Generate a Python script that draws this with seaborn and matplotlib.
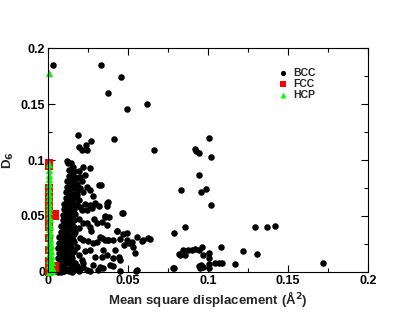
import matplotlib
matplotlib.use("Agg")
import matplotlib.pyplot as plt
from matplotlib.ticker import MultipleLocator
import seaborn as sns
import numpy as np
import pandas as pd

# (mean square displacement, D6) pairs
bcc = np.array([
    # isolated points, upper part
    (0.0031, 0.185), (0.033, 0.185), (0.0454, 0.174), (0.0377, 0.160),
    (0.0496, 0.146), (0.062, 0.150), (0.0185, 0.122), (0.0267, 0.117),
    (0.041, 0.119), (0.0235, 0.113), (0.019, 0.112), (0.066, 0.109),
    (0.1008, 0.120), (0.092, 0.110), (0.0925, 0.108), (0.094, 0.1066),
    (0.1017, 0.1024), (0.0946, 0.0866), (0.0831, 0.073), (0.0954, 0.0711),
    (0.0988, 0.0744), (0.1017, 0.0598), (0.0788, 0.0351), (0.0856, 0.0402),
    (0.1296, 0.0402), (0.1367, 0.0402), (0.142, 0.0408), (0.108, 0.022),
    (0.1217, 0.0185), (0.1308, 0.0158), (0.1169, 0.0071), (0.172, 0.008),
    (0.078, 0.0036),
    # cluster around x = 0.1
    (0.0825, 0.0152), (0.084, 0.0196), (0.0856, 0.0152), (0.0877, 0.0196),
    (0.0898, 0.0196), (0.0919, 0.0205), (0.0946, 0.0196), (0.0963, 0.022),
    (0.0967, 0.0152), (0.1008, 0.0167), (0.1008, 0.0122), (0.1044, 0.0083),
    (0.1065, 0.0083), (0.1085, 0.0077), (0.094, 0.0054), (0.0954, 0.0062),
    (0.0967, 0.0047), (0.095, 0.0033), (0.1008, 0.0036), (0.1008, 0.0071),
    # middle region
    (0.033, 0.0777), (0.037, 0.062), (0.0367, 0.059), (0.0465, 0.0524),
    (0.0356, 0.050), (0.0383, 0.0494), (0.0367, 0.042), (0.0429, 0.0366),
    (0.0467, 0.0339), (0.0335, 0.030), (0.0356, 0.0286), (0.0377, 0.0286),
    (0.0492, 0.0286), (0.0523, 0.0271), (0.0554, 0.0315), (0.0585, 0.028),
    (0.0638, 0.0292), (0.0533, 0.0226), (0.0544, 0.0173), (0.0419, 0.0196),
    (0.044, 0.0137), (0.0408, 0.0122), (0.0335, 0.0137), (0.082, 0.0158),
    (0.0788, 0.0033), (0.0408, 0.0054), (0.045, 0.0012), (0.055, 0.0012),
    (0.0346, 0.0033), (0.0596, 0.0286), (0.0627, 0.030), (0.0325, 0.0315),
    (0.0377, 0.0286), (0.0283, 0.0256), (0.022, 0.0286), (0.0158, 0.0286),
    (0.0429, 0.0369), (0.0492, 0.0345), (0.045, 0.0107), (0.0388, 0.0062),
    (0.0325, 0.0047), (0.0294, 0.0137), (0.0367, 0.0152), (0.026, 0.0196),
    (0.0554, 0.0018), (0.022, 0.0077), (0.0138, 0.0077), (0.0158, 0.0182),
    (0.046, 0.053), (0.0356, 0.0494), (0.024, 0.0435), (0.0304, 0.0435),
    (0.0335, 0.045), (0.0158, 0.038), (0.0377, 0.0629), (0.0273, 0.0568),
    (0.021, 0.055), (0.0315, 0.0777), (0.0179, 0.0762), (0.026, 0.0732),
    (0.0148, 0.088), (0.020, 0.085), (0.023, 0.0866), (0.0127, 0.097),
    (0.0158, 0.094), (0.022, 0.094), (0.026, 0.0926), (0.021, 0.109),
    (0.024, 0.109), (0.0405, 0.0286), (0.045, 0.029), (0.0305, 0.027),
    (0.034, 0.020), (0.0475, 0.024), (0.0505, 0.026), (0.0265, 0.0365),
    (0.0285, 0.0470), (0.0315, 0.0585), (0.0295, 0.0610),
    # dense band near the y axis
    (0.005, 0.001), (0.007, 0.002), (0.009, 0.001), (0.011, 0.003),
    (0.006, 0.004), (0.008, 0.005), (0.010, 0.006), (0.012, 0.002),
    (0.014, 0.004), (0.016, 0.002), (0.018, 0.005), (0.007, 0.008),
    (0.009, 0.009), (0.011, 0.008), (0.013, 0.010), (0.020, 0.003),
    (0.024, 0.002), (0.017, 0.008), (0.028, 0.006), (0.031, 0.002),
    (0.006, 0.012), (0.008, 0.014), (0.010, 0.013), (0.007, 0.017),
    (0.009, 0.019), (0.011, 0.016), (0.006, 0.021), (0.008, 0.023),
    (0.010, 0.022), (0.012, 0.020), (0.007, 0.026), (0.009, 0.028),
    (0.011, 0.025), (0.013, 0.027), (0.015, 0.012), (0.019, 0.015),
    (0.021, 0.011), (0.018, 0.022), (0.023, 0.019), (0.025, 0.028),
    (0.007, 0.031), (0.009, 0.033), (0.011, 0.032), (0.008, 0.036),
    (0.010, 0.038), (0.012, 0.035), (0.008, 0.041), (0.010, 0.043),
    (0.012, 0.040), (0.009, 0.046), (0.011, 0.048), (0.013, 0.045),
    (0.014, 0.033), (0.017, 0.036), (0.015, 0.042), (0.019, 0.047),
    (0.022, 0.044), (0.026, 0.040), (0.020, 0.030), (0.019, 0.039),
    (0.009, 0.051), (0.011, 0.053), (0.013, 0.050), (0.010, 0.056),
    (0.012, 0.058), (0.014, 0.055), (0.010, 0.061), (0.012, 0.063),
    (0.014, 0.060), (0.011, 0.066), (0.013, 0.068), (0.015, 0.065),
    (0.017, 0.052), (0.020, 0.058), (0.023, 0.061), (0.026, 0.060),
    (0.029, 0.062), (0.016, 0.068), (0.019, 0.064), (0.024, 0.055),
    (0.011, 0.071), (0.013, 0.073), (0.015, 0.070), (0.012, 0.076),
    (0.014, 0.078), (0.016, 0.075), (0.012, 0.081), (0.014, 0.083),
    (0.016, 0.080), (0.013, 0.086), (0.015, 0.088), (0.017, 0.085),
    (0.013, 0.091), (0.015, 0.093), (0.014, 0.097), (0.012, 0.099),
    (0.018, 0.079), (0.021, 0.081), (0.019, 0.090), (0.022, 0.071),
    (0.024, 0.076), (0.028, 0.068),
    # extra points filling the dense band
    (0.006, 0.000), (0.008, 0.000), (0.010, 0.001), (0.013, 0.001),
    (0.015, 0.000), (0.019, 0.001), (0.022, 0.004), (0.026, 0.001),
    (0.008, 0.011), (0.010, 0.010), (0.012, 0.013), (0.014, 0.016),
    (0.016, 0.019), (0.012, 0.024), (0.014, 0.022), (0.016, 0.027),
    (0.010, 0.030), (0.012, 0.029), (0.015, 0.030), (0.016, 0.034),
    (0.014, 0.038), (0.016, 0.040), (0.013, 0.043), (0.016, 0.046),
    (0.011, 0.044), (0.015, 0.048), (0.012, 0.051), (0.015, 0.052),
    (0.016, 0.056), (0.012, 0.055), (0.016, 0.061), (0.018, 0.060),
    (0.013, 0.064), (0.017, 0.066), (0.014, 0.070), (0.018, 0.072),
    (0.017, 0.077), (0.015, 0.082), (0.018, 0.084), (0.016, 0.090),
    (0.020, 0.075), (0.018, 0.069),
])

fcc = np.array([
    (0.0005, 0.097), (0.0008, 0.095), (0.0005, 0.075), (0.0008, 0.072),
    (0.0005, 0.065), (0.0008, 0.061), (0.0005, 0.056), (0.0008, 0.052),
    (0.0005, 0.048), (0.0008, 0.045), (0.0042, 0.052), (0.0045, 0.050),
    (0.0005, 0.040), (0.0005, 0.030), (0.0005, 0.020), (0.0008, 0.010),
    (0.0005, 0.003), (0.0005, 0.000), (0.0045, 0.005), (0.0040, 0.003),
    (0.0020, 0.001),
])

hcp = np.array([
    (0.0003, 0.178), (0.0003, 0.096), (0.0003, 0.091), (0.0003, 0.087),
    (0.0005, 0.083), (0.0003, 0.079), (0.0003, 0.074), (0.0005, 0.070),
    (0.0003, 0.066), (0.0005, 0.062), (0.0003, 0.058), (0.0005, 0.054),
    (0.0003, 0.050), (0.0010, 0.047), (0.0003, 0.044), (0.0010, 0.041),
    (0.0003, 0.038), (0.0012, 0.035), (0.0003, 0.032), (0.0012, 0.029),
    (0.0003, 0.026), (0.0015, 0.024), (0.0005, 0.021), (0.0018, 0.019),
    (0.0005, 0.016), (0.0020, 0.014), (0.0005, 0.011), (0.0022, 0.009),
    (0.0005, 0.006), (0.0025, 0.004), (0.0010, 0.002), (0.0003, 0.000),
    (0.0015, 0.001), (0.0028, 0.002),
])

phases = ["BCC", "FCC", "HCP"]
colors = ["black", "red", "#00ff00"]
markers = ["o", "s", "^"]
sizes = [22, 28, 28]
tick_vals = [0, 0.05, 0.1, 0.15, 0.2]
tick_labels = ["0", "0.05", "0.1", "0.15", "0.2"]

df = pd.concat([
    pd.DataFrame({"msd": arr[:, 0], "d6": arr[:, 1], "phase": name})
    for arr, name in zip([bcc, fcc, hcp], phases)
])

sns.set_style("ticks")
plt.rcParams["font.family"] = ["Liberation Sans", "DejaVu Sans"]
plt.rcParams["font.weight"] = "bold"

fig = plt.figure(figsize=(4.15, 3.21), dpi=100)
ax = fig.add_axes([0.116, 0.153, 0.771, 0.697])

for name, c, m, s in zip(phases, colors, markers, sizes):
    sns.scatterplot(data=df[df.phase == name], x="msd", y="d6", color=c,
                    marker=m, s=s, linewidth=0, label=name, ax=ax,
                    clip_on=False)

ax.set_xticks(tick_vals)
ax.set_yticks(tick_vals)
ax.set_xticklabels(tick_labels, fontsize=9, fontweight="bold")
ax.set_yticklabels(tick_labels, fontsize=9, fontweight="bold")
ax.xaxis.set_minor_locator(MultipleLocator(0.025))
ax.yaxis.set_minor_locator(MultipleLocator(0.025))
ax.set_xlim(0, 0.2)
ax.set_ylim(0, 0.2)
ax.tick_params(which="both", direction="in", top=True, right=True,
               width=0.8, colors="black", pad=2)
ax.tick_params(which="major", length=5)
ax.tick_params(which="minor", length=3)
for sp in ax.spines.values():
    sp.set_linewidth(0.8)
    sp.set_color("black")

ax.set_xlabel("Mean square displacement (Å$^\\mathbf{2}$)", fontsize=9.5,
              fontweight="bold", labelpad=2)
ax.set_ylabel("D$_\\mathbf{6}$", fontsize=9.5, fontweight="bold")
ax.yaxis.set_label_coords(-0.1, 0.5)

ax.legend(loc="upper left", bbox_to_anchor=(0.69, 0.955), frameon=False,
          prop={"size": 7.5, "weight": "bold"}, handletextpad=0.4,
          labelspacing=0.12, markerscale=0.8, handlelength=1.0)

fig.savefig("out.png", dpi=100)
